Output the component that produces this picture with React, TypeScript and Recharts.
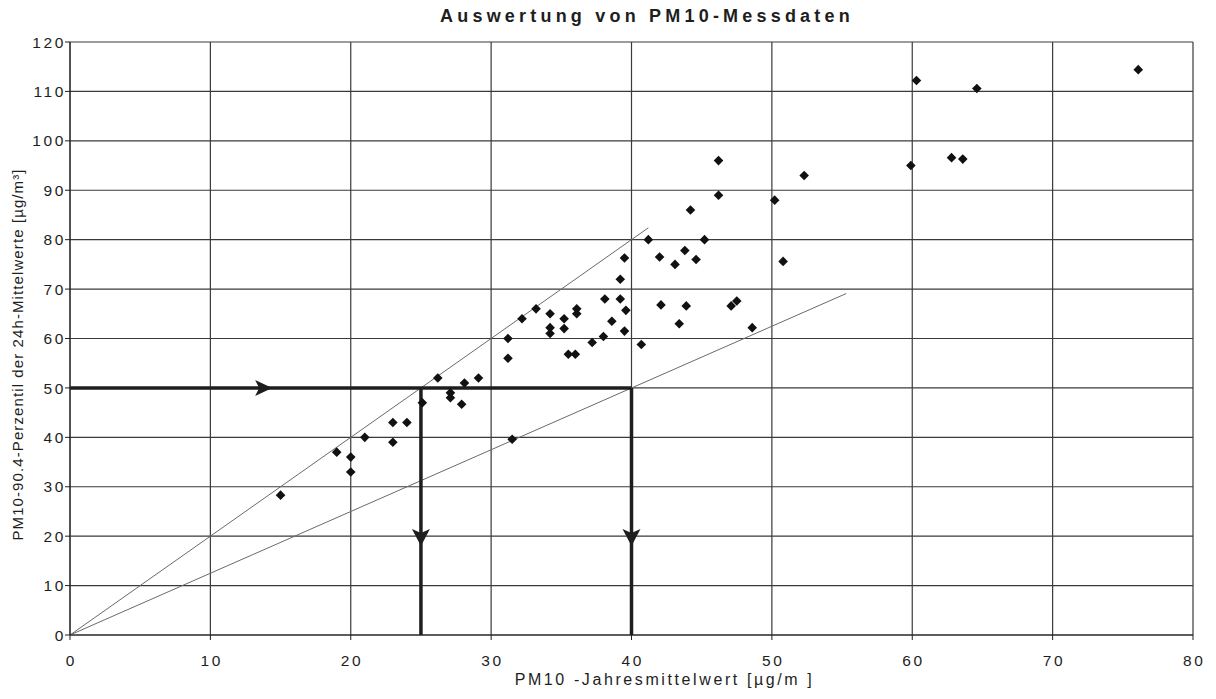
import React from "react";
import {
  ScatterChart,
  Scatter,
  XAxis,
  YAxis,
  CartesianGrid,
  ReferenceLine,
} from "recharts";

// Jahresmittelwert (x) vs. 90.4-Perzentil (y)
const meanValues = [
  15.0, 19.0, 20.0, 20.0, 21.0, 23.0, 23.0, 24.0, 25.1, 26.2, 27.1, 27.1, 27.9,
  28.1, 29.1, 31.2, 31.2, 31.5, 32.2, 33.2, 34.2, 34.2, 34.2, 35.2, 35.2, 36.1,
  36.1, 35.5, 36.0, 37.2, 38.0, 38.1, 38.6, 39.2, 39.2, 39.5, 39.6, 39.5, 40.7,
  41.2, 42.0, 42.1, 43.1, 43.4, 43.8, 43.9, 44.2, 44.6, 45.2, 46.2, 46.2, 47.1,
  47.5, 48.6, 50.2, 50.8, 52.3, 59.9, 60.3, 62.8, 63.6, 64.6, 76.1,
];
const percentileValues = [
  28.3, 37.0, 36.0, 33.0, 40.0, 43.0, 39.0, 43.0, 47.0, 52.0, 49.0, 48.0, 46.7,
  51.0, 52.0, 60.0, 56.0, 39.6, 64.0, 66.0, 65.0, 62.2, 61.0, 64.0, 62.0, 66.0,
  65.0, 56.8, 56.8, 59.2, 60.4, 68.0, 63.5, 72.0, 68.0, 76.3, 65.7, 61.5, 58.8,
  80.0, 76.5, 66.8, 75.0, 63.0, 77.8, 66.6, 86.0, 76.0, 80.0, 96.0, 89.0, 66.6,
  67.6, 62.2, 88.0, 75.6, 93.0, 95.0, 112.2, 96.6, 96.3, 110.6, 114.4,
];

const xTicks = [0, 10, 20, 30, 40, 50, 60, 70, 80];
const yTicks = [0, 10, 20, 30, 40, 50, 60, 70, 80, 90, 100, 110, 120];

// guide lines: upper (y = 2x) and lower (y = 1.25x)
const upperLine = [
  { x: 0, y: 0 },
  { x: 41.2, y: 82.4 },
];
const lowerLine = [
  { x: 0, y: 0 },
  { x: 55.3, y: 69.1 },
];

// reading example: 50 µg/m³ percentile -> 25 / 40 µg/m³ mean
const readLevel = 50;
const readMeans = [25, 40];
const arrowRight = [{ x: 14.4, y: 50 }];
const arrowDown = [
  { x: 25, y: 18 },
  { x: 40, y: 18 },
];

const points = meanValues.map((x, i) => ({ x, y: percentileValues[i] }));

const FONT = '"Liberation Sans", Arial, sans-serif';
const INK = "#1e1e1e";

const Diamond = (props: any) => {
  const { cx, cy } = props;
  const r = 4.8;
  return (
    <polygon
      points={`${cx},${cy - r} ${cx + r},${cy} ${cx},${cy + r} ${cx - r},${cy}`}
      fill="#111"
    />
  );
};

const ArrowRight = (props: any) => {
  const { cx, cy } = props;
  return (
    <polygon
      points={`${cx},${cy} ${cx - 17},${cy - 8} ${cx - 13},${cy} ${cx - 17},${cy + 8}`}
      fill={INK}
    />
  );
};

const ArrowDown = (props: any) => {
  const { cx, cy } = props;
  return (
    <polygon
      points={`${cx},${cy} ${cx - 9},${cy - 17} ${cx},${cy - 13} ${cx + 9},${cy - 17}`}
      fill={INK}
    />
  );
};

const XTick = (props: any) => {
  const { x, y, payload } = props;
  return (
    <text
      x={x + 1.3}
      y={y + 26}
      textAnchor="middle"
      fontFamily={FONT}
      fontSize={15.5}
      letterSpacing={2.6}
      fill={INK}
    >
      {payload.value}
    </text>
  );
};

const YTick = (props: any) => {
  const { x, y, payload } = props;
  return (
    <text
      x={x + 1}
      y={y + 5.6}
      textAnchor="end"
      fontFamily={FONT}
      fontSize={15.5}
      letterSpacing={2.6}
      fill={INK}
    >
      {payload.value}
    </text>
  );
};

const renderXLabel = (props: any) => {
  const vb = props.viewBox || { x: 70, y: 635, width: 1123, height: 30 };
  return (
    <text
      x={vb.x + vb.width / 2 + 33}
      y={vb.y + 50}
      textAnchor="middle"
      fontFamily={FONT}
      fontSize={16}
      letterSpacing={2.6}
      fill={INK}
    >
      PM10 -Jahresmittelwert  [µg/m  ]
    </text>
  );
};

const renderYLabel = (props: any) => {
  const vb = props.viewBox || { x: 20, y: 42, width: 50, height: 593 };
  const cx = 23;
  const cy = vb.y + vb.height / 2 + 16;
  return (
    <text
      x={cx}
      y={cy}
      transform={`rotate(-90 ${cx} ${cy})`}
      textAnchor="middle"
      fontFamily={FONT}
      fontSize={15}
      letterSpacing={1.1}
      fill={INK}
    >
      PM10-90.4-Perzentil der 24h-Mittelwerte [µg/m³]
    </text>
  );
};

export default function App() {
  return (
    <div
      style={{
        position: "absolute",
        left: 0,
        top: 0,
        width: 1216,
        height: 699,
        background: "#fff",
      }}
    >
      <div
        style={{
          position: "absolute",
          left: 0,
          top: 6,
          width: 1294,
          textAlign: "center",
          fontFamily: FONT,
          fontWeight: "bold",
          fontSize: 18,
          letterSpacing: 4.2,
          color: INK,
        }}
      >
        Auswertung von PM10-Messdaten
      </div>
      <ScatterChart
        width={1216}
        height={699}
        margin={{ top: 42, right: 23, bottom: 34, left: 20 }}
      >
        <CartesianGrid stroke="#3a3a3a" strokeWidth={1.2} />
        <XAxis
          type="number"
          dataKey="x"
          domain={[0, 80]}
          ticks={xTicks}
          interval={0}
          height={30}
          tickSize={5}
          tickMargin={0}
          axisLine={{ stroke: INK }}
          tickLine={{ stroke: INK }}
          tick={<XTick />}
          label={renderXLabel}
        />
        <YAxis
          type="number"
          dataKey="y"
          domain={[0, 120]}
          ticks={yTicks}
          interval={0}
          width={50}
          tickSize={5}
          tickMargin={0}
          axisLine={{ stroke: INK }}
          tickLine={{ stroke: INK }}
          tick={<YTick />}
          label={renderYLabel}
        />
        <ReferenceLine segment={upperLine} stroke="#6a6a6a" strokeWidth={1} />
        <ReferenceLine segment={lowerLine} stroke="#6a6a6a" strokeWidth={1} />
        <ReferenceLine
          segment={[
            { x: 0, y: readLevel },
            { x: readMeans[1], y: readLevel },
          ]}
          stroke={INK}
          strokeWidth={3.5}
        />
        {readMeans.map((m) => (
          <ReferenceLine
            key={m}
            segment={[
              { x: m, y: readLevel },
              { x: m, y: 0 },
            ]}
            stroke={INK}
            strokeWidth={3.5}
          />
        ))}
        <Scatter data={points} shape={<Diamond />} isAnimationActive={false} />
        <Scatter data={arrowRight} shape={<ArrowRight />} isAnimationActive={false} />
        <Scatter data={arrowDown} shape={<ArrowDown />} isAnimationActive={false} />
      </ScatterChart>
    </div>
  );
}
